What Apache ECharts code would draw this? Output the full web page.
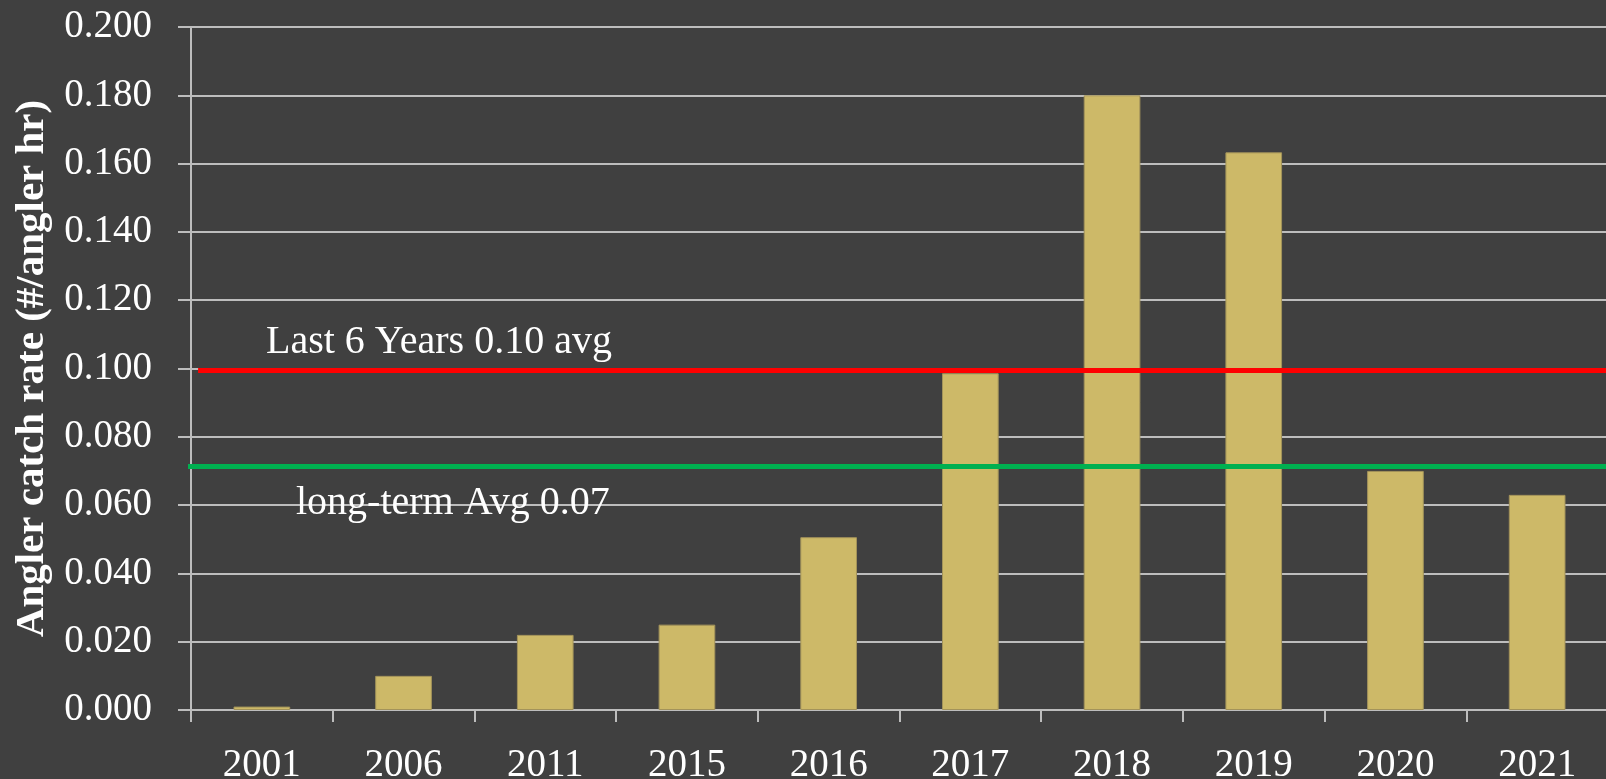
<!DOCTYPE html>
<html>
<head>
<meta charset="utf-8">
<script src="https://cdn.jsdelivr.net/npm/echarts@6/dist/echarts.min.js"></script>
<style>
    html, body { margin: 0; padding: 0; background: #404040; }
    #catchRate { width: 1606px; height: 779px; }
</style>
</head>
<body>
<div id="catchRate"></div>
<script>
    // 数据
    const years = ['2001', '2006', '2011', '2015', '2016', '2017', '2018', '2019', '2020', '2021'];
    const catchRate = [0.001, 0.010, 0.022, 0.025, 0.0506, 0.0986, 0.180, 0.1633, 0.070, 0.063];
    const recentAvg = 0.0994;   // Last 6 Years
    const longTermAvg = 0.0713; // long-term
    const recentSpan = [0.05, 10.1];    // in category units
    const longTermSpan = [-0.065, 10.1];

    const serif = "'Liberation Serif', 'Times New Roman', serif";
    const chart = echarts.init(document.getElementById('catchRate'));

    chart.setOption({
        backgroundColor: '#404040',
        animation: false,
        grid: {
            left: 191,
            top: 27,
            width: 1417,
            bottom: 69,
            containLabel: false,
            outerBoundsMode: 'none'
        },
        xAxis: [{
            type: 'category',
            data: years,
            axisLine: { lineStyle: { color: '#BDBDBD', width: 2 } },
            axisTick: { show: true, length: 12, lineStyle: { color: '#BDBDBD', width: 2 } },
            axisLabel: {
                color: '#FFFFFF',
                fontFamily: serif,
                fontSize: 39,
                margin: 36
            },
            splitLine: { show: false }
        }, {
            // 辅助轴：画平均线
            type: 'value',
            min: 0,
            max: 10,
            show: false
        }],
        yAxis: {
            type: 'value',
            min: 0,
            max: 0.2,
            interval: 0.02,
            name: 'Angler catch rate (#/angler hr)',
            nameLocation: 'middle',
            nameGap: 135,
            nameTextStyle: {
                color: '#FFFFFF',
                fontFamily: serif,
                fontWeight: 'bold',
                fontSize: 41
            },
            axisLine: { show: true, lineStyle: { color: '#BDBDBD', width: 2 } },
            axisTick: { show: true, length: 13, lineStyle: { color: '#BDBDBD', width: 2 } },
            axisLabel: {
                color: '#FFFFFF',
                fontFamily: serif,
                fontSize: 39,
                margin: 39,
                formatter: v => v.toFixed(3)
            },
            splitLine: { lineStyle: { color: '#BDBDBD', width: 2 } }
        },
        series: [{
            name: 'catch rate',
            type: 'bar',
            data: catchRate,
            barWidth: '40%',
            itemStyle: {
                color: '#CDB968',
                borderColor: '#A3935A',
                borderWidth: 1
            },
            z: 2
        }, {
            name: 'Last 6 Years',
            type: 'line',
            xAxisIndex: 1,
            data: recentSpan.map(x => [x, recentAvg]),
            symbol: 'none',
            clip: false,
            silent: true,
            lineStyle: { color: '#FF0000', width: 5 },
            z: 5
        }, {
            name: 'long-term',
            type: 'line',
            xAxisIndex: 1,
            data: longTermSpan.map(x => [x, longTermAvg]),
            symbol: 'none',
            clip: false,
            silent: true,
            lineStyle: { color: '#00B050', width: 5 },
            z: 5
        }],
        graphic: [{
            type: 'text',
            left: 266,
            top: 322,
            style: {
                text: 'Last 6 Years 0.10 avg',
                fill: '#FFFFFF',
                font: '40px ' + serif
            },
            z: 10
        }, {
            type: 'text',
            left: 296,
            top: 483,
            style: {
                text: 'long-term Avg 0.07',
                fill: '#FFFFFF',
                font: '40px ' + serif
            },
            z: 10
        }]
    });
</script>
</body>
</html>
